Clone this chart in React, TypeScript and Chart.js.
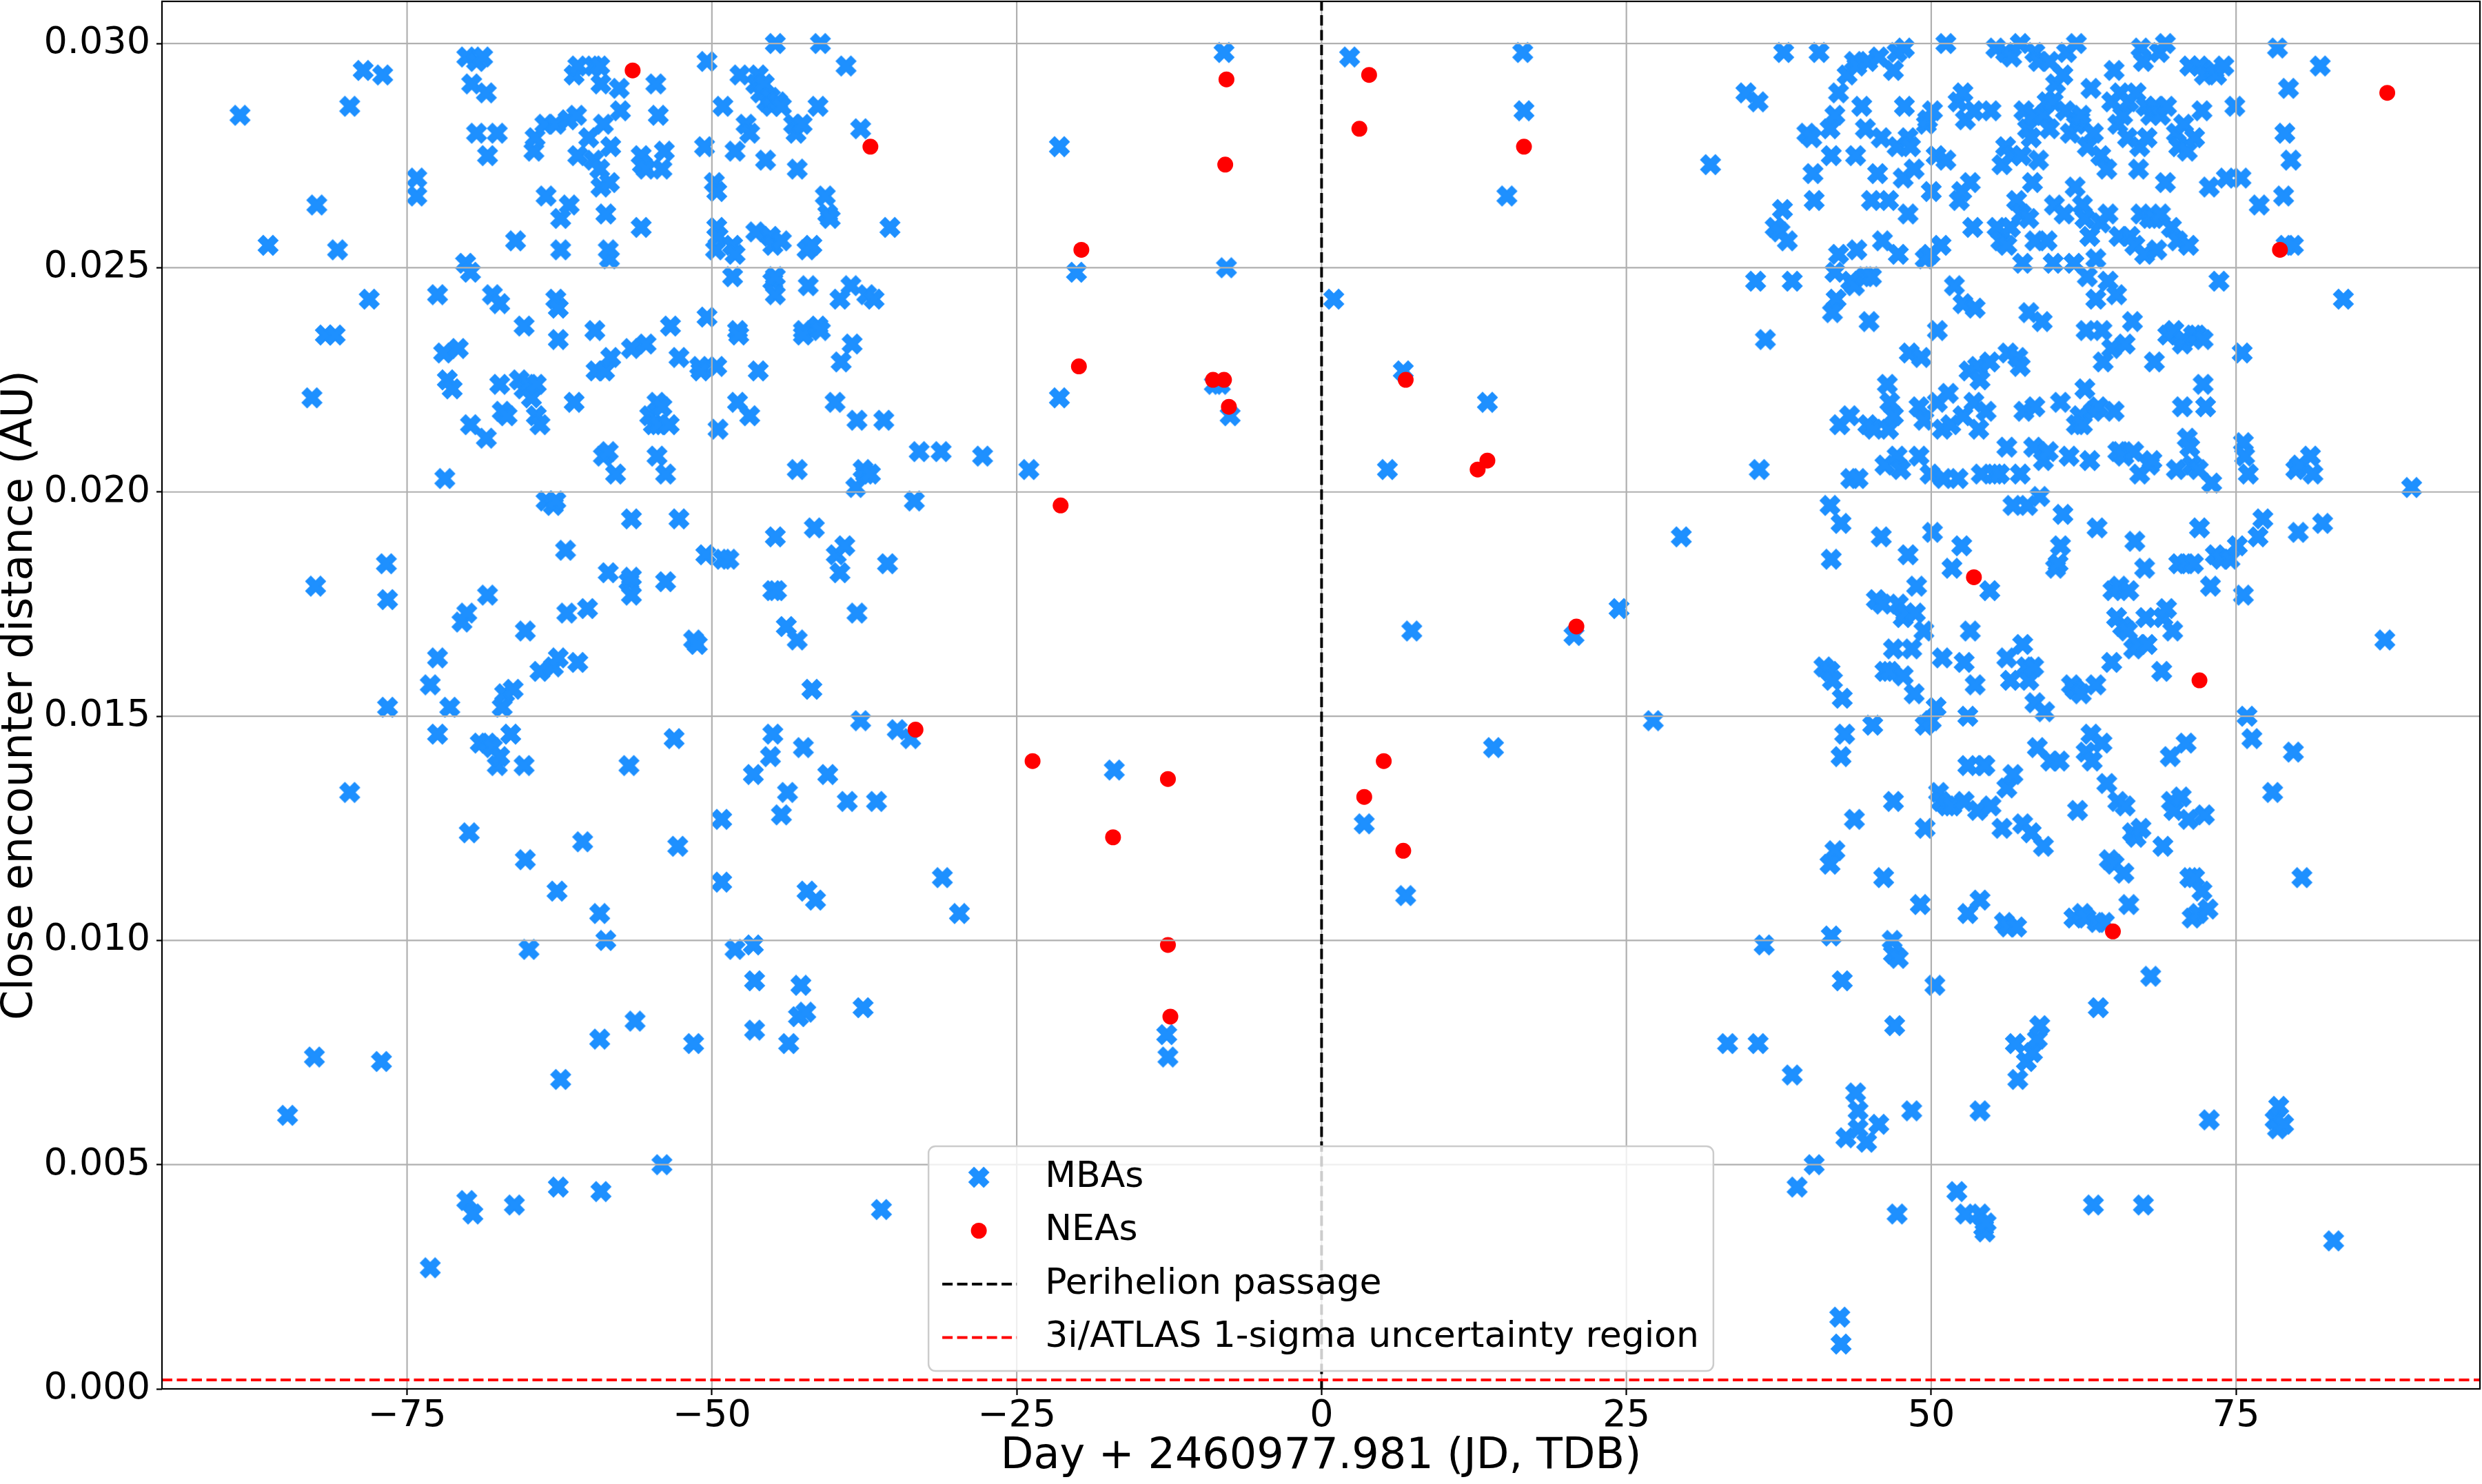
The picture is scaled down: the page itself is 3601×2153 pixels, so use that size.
import React, {useEffect, useRef} from 'react'
import {Chart, registerables} from 'chart.js'

Chart.register(...registerables)

// [day relative to perihelion, close encounter distance in AU]
const mbaPrePerihelion: [number, number][] = [
  [-88.7, 0.0284], [-86.4, 0.0255], [-82.4, 0.0264], [-82.8, 0.0221], [-81.7, 0.0235], [-80.9, 0.0235],
  [-80.7, 0.0254], [-79.7, 0.0286], [-78.6, 0.0294], [-78.1, 0.0243], [-77.0, 0.0293], [-82.5, 0.0179],
  [-84.8, 0.0061], [-82.6, 0.0074], [-79.7, 0.0133], [-76.7, 0.0184], [-76.6, 0.0176], [-76.6, 0.0152],
  [-77.1, 0.0073], [-74.2, 0.027], [-74.2, 0.0266], [-72.5, 0.0244], [-72.0, 0.0231], [-71.7, 0.0225],
  [-71.3, 0.0223], [-70.8, 0.0232], [-71.9, 0.0203], [-73.1, 0.0157], [-72.5, 0.0163], [-72.5, 0.0146],
  [-73.1, 0.0027], [-71.5, 0.0152], [-70.5, 0.0171], [-70.1, 0.0173], [-70.2, 0.0251], [-69.8, 0.0249],
  [-69.8, 0.0215], [-69.9, 0.0124], [-70.1, 0.0042], [-69.6, 0.0039], [-70.1, 0.0297], [-69.3, 0.0296],
  [-68.8, 0.0297], [-69.7, 0.0291], [-69.3, 0.028], [-68.5, 0.0289], [-68.4, 0.0275], [-67.6, 0.028],
  [-68.5, 0.0212], [-68.4, 0.0177], [-69.0, 0.0144], [-68.4, 0.0144], [-68.0, 0.0244], [-67.4, 0.0242],
  [-67.4, 0.0224], [-67.2, 0.0218], [-66.8, 0.0217], [-68.0, 0.0143], [-67.6, 0.0139], [-67.2, 0.0152],
  [-67.0, 0.0155], [-66.3, 0.0156], [-66.5, 0.0146], [-67.4, 0.0141], [-66.1, 0.0256], [-66.2, 0.0041],
  [-65.4, 0.0237], [-65.4, 0.0139], [-65.3, 0.0118], [-65.0, 0.0098], [-65.3, 0.0169], [-65.8, 0.0225],
  [-65.4, 0.0223], [-65.0, 0.0224], [-64.8, 0.0221], [-64.4, 0.0224], [-64.4, 0.0217], [-64.1, 0.0215],
  [-64.6, 0.0276], [-64.5, 0.0279], [-63.7, 0.0282], [-62.8, 0.0282], [-61.8, 0.0283], [-64.1, 0.016],
  [-63.6, 0.0266], [-63.6, 0.0198], [-63.0, 0.0197], [-62.8, 0.0198], [-63.0, 0.0161], [-62.6, 0.0163],
  [-62.8, 0.0243], [-62.6, 0.0241], [-62.6, 0.0234], [-62.4, 0.0261], [-62.4, 0.0254], [-62.4, 0.0069],
  [-62.7, 0.0111], [-62.6, 0.0045], [-62.0, 0.0187], [-61.9, 0.0173], [-61.7, 0.0264], [-61.3, 0.0293],
  [-61.0, 0.0295], [-61.1, 0.0284], [-61.0, 0.0275], [-61.3, 0.022], [-61.0, 0.0162], [-60.6, 0.0122],
  [-60.2, 0.0174], [-60.1, 0.0279], [-59.7, 0.0295], [-59.2, 0.0295], [-59.7, 0.0274], [-59.6, 0.0236],
  [-59.5, 0.0227], [-59.1, 0.0291], [-58.9, 0.0282], [-59.2, 0.0272], [-59.1, 0.0268], [-58.4, 0.0269],
  [-58.7, 0.0262], [-58.3, 0.0277], [-58.9, 0.0208], [-58.5, 0.0209], [-58.8, 0.0227], [-58.3, 0.023],
  [-58.5, 0.0182], [-58.7, 0.01], [-59.2, 0.0106], [-59.2, 0.0078], [-59.1, 0.0044], [-58.4, 0.0252],
  [-58.5, 0.0254], [-57.9, 0.0204], [-57.6, 0.029], [-57.5, 0.0285], [-56.8, 0.018], [-56.6, 0.0181],
  [-56.6, 0.0177], [-56.6, 0.0194], [-56.6, 0.0232], [-56.8, 0.0139], [-56.3, 0.0082], [-55.8, 0.0259],
  [-55.8, 0.0275], [-55.7, 0.0273], [-55.4, 0.0233], [-55.4, 0.0272], [-54.6, 0.0291], [-54.4, 0.0284],
  [-55.1, 0.0217], [-54.8, 0.0215], [-54.5, 0.022], [-54.5, 0.0208], [-54.4, 0.0215], [-54.1, 0.0219],
  [-54.1, 0.0272], [-53.9, 0.0276], [-53.8, 0.0204], [-53.8, 0.018], [-53.4, 0.0237], [-53.5, 0.0215],
  [-53.1, 0.0145], [-52.7, 0.0194], [-52.8, 0.0121], [-54.1, 0.005], [-52.7, 0.023], [-51.5, 0.0077],
  [-51.5, 0.0167], [-51.2, 0.0166], [-51.0, 0.0228], [-50.9, 0.0227], [-50.6, 0.0277], [-50.4, 0.0296],
  [-50.5, 0.0186], [-50.4, 0.0239], [-49.8, 0.0269], [-49.6, 0.0267], [-49.7, 0.0254], [-49.6, 0.0259],
  [-49.5, 0.0257], [-49.5, 0.0214], [-49.6, 0.0228], [-49.1, 0.0185], [-48.6, 0.0185], [-49.1, 0.0286],
  [-49.2, 0.0127], [-49.2, 0.0113], [-48.3, 0.0248], [-48.3, 0.0255], [-48.1, 0.0253], [-48.1, 0.0276],
  [-47.9, 0.0236], [-47.8, 0.0235], [-47.9, 0.022], [-48.1, 0.0098], [-47.7, 0.0293], [-47.2, 0.0282],
  [-46.9, 0.0217], [-46.9, 0.028], [-46.6, 0.0099], [-46.6, 0.0137], [-46.5, 0.008], [-46.5, 0.0091],
  [-46.4, 0.0291], [-46.2, 0.0293], [-46.4, 0.0258], [-46.2, 0.0227], [-46.0, 0.0289], [-45.7, 0.0291],
  [-45.6, 0.0274], [-45.5, 0.0287], [-45.2, 0.0288], [-45.1, 0.0286], [-45.2, 0.0257], [-45.0, 0.0255],
  [-44.8, 0.03], [-45.0, 0.0247], [-44.8, 0.0248], [-44.8, 0.0244], [-45.0, 0.0178], [-45.0, 0.0146],
  [-45.2, 0.0141], [-44.8, 0.019], [-44.7, 0.0178], [-44.6, 0.0287], [-44.3, 0.0286], [-44.3, 0.0128],
  [-44.3, 0.0256], [-43.9, 0.017], [-43.8, 0.0133], [-43.7, 0.0077], [-43.3, 0.0282], [-43.1, 0.028],
  [-43.0, 0.0272], [-43.0, 0.0205], [-43.0, 0.0167], [-42.7, 0.009], [-42.9, 0.0083], [-42.6, 0.0282],
  [-42.5, 0.0236], [-42.5, 0.0235], [-42.5, 0.0143], [-42.2, 0.0111], [-42.2, 0.0254], [-42.1, 0.0246],
  [-42.3, 0.0084], [-41.8, 0.0156], [-41.8, 0.0255], [-41.6, 0.0192], [-41.5, 0.0109], [-41.3, 0.0286],
  [-41.1, 0.03], [-41.3, 0.0237], [-41.1, 0.0236], [-40.7, 0.0266], [-40.5, 0.0262], [-40.5, 0.0137],
  [-40.3, 0.0261], [-39.9, 0.022], [-39.8, 0.0186], [-39.5, 0.0243], [-39.5, 0.0182], [-39.4, 0.0229],
  [-39.1, 0.0188], [-39.0, 0.0295], [-38.9, 0.0131], [-38.6, 0.0246], [-38.5, 0.0233], [-38.2, 0.0201],
  [-38.1, 0.0173], [-37.8, 0.0149], [-38.1, 0.0216], [-37.8, 0.0281], [-37.6, 0.0085], [-37.4, 0.0204],
  [-37.3, 0.0244], [-37.6, 0.0205], [-37.0, 0.0204], [-36.7, 0.0243], [-36.5, 0.0131], [-36.1, 0.004],
  [-35.9, 0.0216], [-35.6, 0.0184], [-35.4, 0.0259], [-34.8, 0.0147], [-33.7, 0.0145], [-33.4, 0.0198],
  [-33.0, 0.0209], [-31.2, 0.0209], [-31.1, 0.0114], [-29.7, 0.0106], [-27.8, 0.0208], [-24.0, 0.0205],
  [-21.5, 0.0221], [-21.5, 0.0277], [-20.1, 0.0249], [-17.0, 0.0138], [-12.7, 0.0079], [-12.6, 0.0074],
  [-8.8, 0.0224], [-8.0, 0.0298], [-7.8, 0.025], [-7.5, 0.0217], [-8.3, 0.0224],
]

const mbaPostPerihelion: [number, number][] = [
  [1.0, 0.0243], [2.3, 0.0297], [3.5, 0.0126], [6.7, 0.0227], [6.9, 0.011], [7.4, 0.0169], [5.4, 0.0205],
  [13.6, 0.022], [14.1, 0.0143], [15.2, 0.0266], [16.6, 0.0285], [16.5, 0.0298], [20.7, 0.0168],
  [24.4, 0.0174], [27.2, 0.0149], [29.5, 0.019], [31.9, 0.0273], [33.3, 0.0077], [34.8, 0.0289],
  [35.8, 0.0287], [35.6, 0.0247], [35.9, 0.0205], [36.4, 0.0234], [35.8, 0.0077], [36.3, 0.0099],
  [37.2, 0.0259], [37.6, 0.0258], [37.8, 0.0263], [38.2, 0.0256], [37.9, 0.0298], [38.6, 0.0247],
  [38.6, 0.007], [39.0, 0.0045], [39.8, 0.028], [40.2, 0.0279], [40.3, 0.0271], [40.4, 0.0265],
  [40.4, 0.005], [40.8, 0.0298], [41.7, 0.0281], [41.8, 0.0275], [42.1, 0.0284], [42.4, 0.0289],
  [42.2, 0.0243], [41.9, 0.024], [42.4, 0.0253], [42.1, 0.0249], [41.7, 0.0197], [41.8, 0.0185],
  [41.2, 0.0161], [41.7, 0.016], [41.9, 0.0158], [42.1, 0.012], [41.7, 0.0117], [41.8, 0.0101],
  [42.5, 0.0016], [42.6, 0.001], [42.5, 0.0215], [42.6, 0.0193], [42.7, 0.0154], [42.9, 0.0146],
  [42.6, 0.0141], [42.7, 0.0091], [43.0, 0.0056], [43.1, 0.0293], [43.3, 0.0217],
  [43.4, 0.0203], [43.7, 0.0296], [43.9, 0.0295], [43.8, 0.0275], [43.9, 0.0254], [43.4, 0.0247],
  [43.7, 0.0246], [44.0, 0.0203], [43.7, 0.0127], [43.8, 0.0066], [44.0, 0.0058], [44.0, 0.0062],
  [44.3, 0.0286], [44.6, 0.0281], [44.6, 0.0248], [44.7, 0.0055], [44.8, 0.0296], [44.8, 0.0215],
  [45.1, 0.0265], [44.9, 0.0238], [45.2, 0.0148], [45.1, 0.0248], [45.3, 0.0214], [45.5, 0.0176],
  [45.6, 0.0271], [45.7, 0.0297], [45.7, 0.0059], [45.9, 0.0279], [45.9, 0.019], [46.0, 0.0256],
  [46.0, 0.0175], [46.1, 0.0114], [46.2, 0.016], [46.2, 0.0206], [46.4, 0.0224], [46.5, 0.0265],
  [46.6, 0.016], [46.6, 0.022], [46.8, 0.01], [46.5, 0.0214], [46.9, 0.0294], [46.9, 0.0217],
  [46.9, 0.0131], [46.9, 0.0165], [46.9, 0.0097], [47.0, 0.0081], [47.2, 0.0298], [47.2, 0.0277],
  [47.2, 0.0208], [47.2, 0.0039], [47.3, 0.0253], [47.3, 0.0175], [47.3, 0.0096], [47.5, 0.0205],
  [47.7, 0.027], [47.7, 0.0159], [47.7, 0.0172], [47.8, 0.0299], [47.8, 0.0286], [48.1, 0.0186],
  [47.9, 0.0173], [48.1, 0.0279], [48.1, 0.0262], [48.2, 0.0231], [48.3, 0.0277], [48.4, 0.0165],
  [48.4, 0.0062], [48.6, 0.0272], [48.6, 0.0155], [48.7, 0.0173], [48.8, 0.0179], [49.0, 0.0208],
  [49.1, 0.0108], [49.0, 0.0219], [49.2, 0.023], [49.4, 0.0216], [49.4, 0.0169], [49.5, 0.0252],
  [49.5, 0.0148], [49.5, 0.0125], [49.6, 0.0282], [49.7, 0.0283],
  [49.9, 0.0253], [49.9, 0.0204], [50.0, 0.0267], [50.0, 0.0149], [50.1, 0.0191], [50.1, 0.0285],
  [50.3, 0.009], [50.4, 0.0275], [50.4, 0.0152], [50.5, 0.0236], [50.5, 0.022], [50.6, 0.0133],
  [50.8, 0.0255], [50.8, 0.0131], [50.9, 0.0214], [50.9, 0.0163], [51.0, 0.0203], [51.2, 0.03],
  [51.2, 0.0274], [51.3, 0.013], [51.4, 0.0222], [51.6, 0.0215], [51.7, 0.0183], [51.7, 0.013],
  [51.9, 0.0246], [52.1, 0.0044], [52.2, 0.0287], [52.2, 0.0203], [52.3, 0.0265], [52.5, 0.0267],
  [52.5, 0.0188], [52.6, 0.0289], [52.6, 0.0242], [52.6, 0.0217], [52.7, 0.0162], [52.7, 0.0131],
  [52.8, 0.0283], [52.8, 0.0039], [53.0, 0.015], [53.0, 0.0139], [53.0, 0.0106], [53.1, 0.0227],
  [53.2, 0.0169], [53.2, 0.0269], [53.4, 0.0259], [53.5, 0.022], [53.5, 0.0285], [53.6, 0.0241],
  [53.6, 0.0157], [53.8, 0.0129], [53.8, 0.0228], [53.9, 0.0214], [54.0, 0.0039], [54.0, 0.0109],
  [54.0, 0.0062], [54.0, 0.0225], [54.1, 0.0204], [54.3, 0.0139], [54.3, 0.0036], [54.4, 0.0035],
  [54.4, 0.0139], [54.5, 0.0218], [54.5, 0.0037], [54.8, 0.0178], [54.8, 0.0229], [54.9, 0.013],
  [54.9, 0.0285], [55.2, 0.0204], [55.3, 0.0299], [55.4, 0.0259], [55.6, 0.0204], [55.7, 0.0256],
  [55.8, 0.0273], [55.8, 0.0125], [56.0, 0.0104], [56.1, 0.0298], [56.1, 0.0277], [56.2, 0.0255],
  [56.2, 0.021], [56.2, 0.0163], [56.2, 0.0134],
  [56.3, 0.0231], [56.3, 0.0103], [56.5, 0.0158], [56.5, 0.0259], [56.6, 0.0297], [56.6, 0.0275],
  [56.7, 0.0197], [56.7, 0.0137], [56.9, 0.0077], [57.0, 0.0265], [57.0, 0.0103], [57.1, 0.023],
  [57.1, 0.0069], [57.3, 0.03], [57.3, 0.0228], [57.3, 0.0204], [57.4, 0.0275], [57.4, 0.0262],
  [57.5, 0.0251], [57.5, 0.0126], [57.5, 0.0166], [57.6, 0.0285], [57.6, 0.0218], [57.8, 0.0073],
  [57.8, 0.0161], [57.9, 0.0281], [57.9, 0.0197], [58.0, 0.0261], [58.0, 0.024], [58.0, 0.0158],
  [58.2, 0.0279], [58.2, 0.0124], [58.3, 0.0269], [58.3, 0.0075], [58.4, 0.0284], [58.4, 0.021],
  [58.4, 0.0161], [58.5, 0.0298], [58.5, 0.0256], [58.5, 0.0219], [58.5, 0.0153], [58.7, 0.0143],
  [58.7, 0.0078], [58.8, 0.0296], [58.8, 0.0274], [58.9, 0.0199], [58.9, 0.0081], [59.1, 0.0238],
  [59.2, 0.0207], [59.2, 0.0121], [59.2, 0.0284], [59.3, 0.0151], [59.5, 0.0256], [59.5, 0.0287],
  [59.6, 0.0209], [59.7, 0.0281], [59.7, 0.0296], [59.8, 0.014], [60.0, 0.0287], [60.0, 0.0251],
  [60.1, 0.0264], [60.2, 0.0183], [60.2, 0.0291], [60.4, 0.0184], [60.5, 0.014], [60.6, 0.0188],
  [60.6, 0.022], [60.8, 0.0293], [60.8, 0.0195], [60.9, 0.0262], [61.0, 0.0285], [61.1, 0.0298],
  [61.3, 0.0208], [61.4, 0.028], [61.5, 0.0157], [61.7, 0.0105], [61.7, 0.0251], [61.8, 0.0156],
  [61.8, 0.0268], [61.9, 0.03], [61.9, 0.0215], [61.9, 0.0282], [62.0, 0.0129], [62.2, 0.0283],
  [62.2, 0.0217], [62.3, 0.0155], [62.3, 0.0284], [62.4, 0.0215], [62.4, 0.0264], [62.4, 0.0106],
  [62.6, 0.0223], [62.6, 0.0261], [62.7, 0.0142], [62.7, 0.0236], [62.7, 0.0105],
  [62.8, 0.0277], [62.8, 0.0248], [63.0, 0.0257], [63.0, 0.0207], [63.1, 0.029], [63.1, 0.0146],
  [63.2, 0.014], [63.3, 0.028], [63.3, 0.0218], [63.3, 0.0041], [63.5, 0.0252], [63.5, 0.0243],
  [63.5, 0.0157], [63.6, 0.0104], [63.6, 0.0192], [63.7, 0.0219], [63.7, 0.0085], [63.9, 0.0275],
  [63.9, 0.026], [64.0, 0.0236], [64.0, 0.0144], [64.1, 0.0229], [64.2, 0.0104], [64.4, 0.0272],
  [64.4, 0.0135], [64.5, 0.0247], [64.5, 0.0262], [64.6, 0.0118], [64.8, 0.0287], [64.8, 0.0232],
  [64.8, 0.0162], [64.9, 0.0178], [65.0, 0.0294], [65.0, 0.0218], [65.0, 0.0117], [65.2, 0.0244],
  [65.2, 0.0172], [65.3, 0.0282], [65.3, 0.0131], [65.3, 0.0209], [65.4, 0.0257], [65.4, 0.0179],
  [65.5, 0.0289], [65.5, 0.0209], [65.7, 0.0284], [65.7, 0.017], [65.8, 0.0208], [65.8, 0.0115],
  [65.9, 0.0233], [65.9, 0.013], [66.1, 0.0279], [66.1, 0.0169], [66.2, 0.0287], [66.2, 0.0178],
  [66.2, 0.0108], [66.3, 0.0257], [66.5, 0.0238], [66.5, 0.0124], [66.6, 0.0165], [66.6, 0.0209],
  [66.7, 0.0255], [66.7, 0.0189], [66.8, 0.0289], [66.8, 0.0123], [67.0, 0.0272], [67.0, 0.0166],
  [67.1, 0.0277], [67.1, 0.0204], [67.2, 0.0299], [67.2, 0.0262], [67.2, 0.0125], [67.4, 0.0296],
  [67.4, 0.0041], [67.5, 0.0253], [67.5, 0.0183], [67.6, 0.0286], [67.6, 0.0172], [67.7, 0.0279],
  [67.7, 0.0166], [67.9, 0.0261], [67.9, 0.0206], [68.0, 0.0284], [68.0, 0.0092], [68.1, 0.0207],
  [68.3, 0.0261], [68.3, 0.0229], [68.4, 0.0286], [68.5, 0.0254], [68.7, 0.0298], [68.8, 0.0284],
  [68.8, 0.0262], [68.9, 0.016], [69.0, 0.0172], [69.0, 0.0121], [69.2, 0.03], [69.2, 0.0269],
  [69.3, 0.0286], [69.3, 0.0174], [69.4, 0.0235], [69.6, 0.0141], [69.7, 0.0259], [69.7, 0.0131],
  [69.8, 0.0169], [69.9, 0.0236], [69.9, 0.0129], [70.1, 0.028], [70.1, 0.0205], [70.2, 0.0256],
  [70.3, 0.0277], [70.3, 0.0184], [70.5, 0.0132], [70.6, 0.0233], [70.6, 0.0219], [70.7, 0.0282],
  [70.7, 0.0234], [70.9, 0.0144], [70.9, 0.0184], [71.0, 0.0276], [71.0, 0.0212], [71.1, 0.0255],
  [71.1, 0.0127], [71.2, 0.0295], [71.2, 0.021], [71.2, 0.0114], [71.4, 0.0206], [71.4, 0.0105],
  [71.5, 0.0235], [71.5, 0.0184], [71.6, 0.0279], [71.6, 0.0114], [71.8, 0.0235], [71.9, 0.0205],
  [71.9, 0.0106], [72.0, 0.0295], [72.0, 0.0192], [72.2, 0.0285], [72.2, 0.0111], [72.3, 0.0234],
  [72.3, 0.0224], [72.4, 0.0293], [72.4, 0.0128], [72.5, 0.0219], [72.7, 0.0107], [72.8, 0.0268],
  [72.8, 0.006], [72.9, 0.0179], [73.0, 0.0202], [73.2, 0.0294], [73.3, 0.0186], [73.4, 0.0293],
  [73.6, 0.0247], [73.8, 0.0185], [74.0, 0.0295], [74.2, 0.027], [74.5, 0.0185], [74.9, 0.0286],
  [75.1, 0.0188], [75.4, 0.027], [75.5, 0.0231], [75.6, 0.0177], [75.6, 0.0211], [75.7, 0.0208],
  [75.9, 0.015], [76.0, 0.0204], [76.3, 0.0145], [76.8, 0.019], [76.9, 0.0264], [77.2, 0.0194],
  [78.0, 0.0133], [78.2, 0.006], [78.4, 0.0058], [78.4, 0.0299], [78.5, 0.0063], [78.9, 0.0266],
  [78.9, 0.0059], [79.0, 0.028], [79.1, 0.0255], [79.3, 0.029], [79.5, 0.0274], [79.7, 0.0255],
  [79.7, 0.0142], [79.9, 0.0205], [80.1, 0.0191], [80.2, 0.0206], [80.4, 0.0114], [81.1, 0.0208],
  [81.3, 0.0204], [81.9, 0.0295], [82.1, 0.0193], [83.0, 0.0033], [83.8, 0.0243], [87.2, 0.0167],
  [89.4, 0.0201],
]

const neaPoints: [number, number][] = [
  [-56.5, 0.0294], [-37.0, 0.0277], [-33.3, 0.0147], [-23.7, 0.014], [-21.4, 0.0197], [-19.9, 0.0228],
  [-19.7, 0.0254], [-17.1, 0.0123], [-12.6, 0.0136], [-12.6, 0.0099], [-12.4, 0.0083], [-8.9, 0.0225],
  [-8.0, 0.0225], [-7.9, 0.0273], [-7.8, 0.0292], [-7.6, 0.0219], [3.1, 0.0281], [3.9, 0.0293],
  [3.5, 0.0132], [5.1, 0.014], [6.7, 0.012], [6.9, 0.0225], [12.8, 0.0205], [13.6, 0.0207],
  [16.6, 0.0277], [20.9, 0.017], [53.5, 0.0181], [64.9, 0.0102], [72.0, 0.0158], [78.6, 0.0254],
  [87.4, 0.0289],
]

const perihelionDay = 0
const sigmaDistance = 0.0002
const dayRange = [-95.1, 95.0]
const distanceRange = [0, 0.03094]
const dayStep = 25
const distanceStep = 0.005

const legendLabels = ['MBAs', 'NEAs', 'Perihelion passage', '3i/ATLAS 1-sigma uncertainty region']

const FONT = '"DejaVu Sans", sans-serif'
const MBA_COLOR = '#1e90ff'
const NEA_COLOR = '#ff0000'

// matplotlib's filled "X" marker
function makeXMarker(size: number, color: string) {
  const c = document.createElement('canvas')
  c.width = size + 4
  c.height = size + 4
  const g = c.getContext('2d')!
  const u = size / 4
  const pts = [[-1, -2], [0, -1], [1, -2], [2, -1], [1, 0], [2, 1], [1, 2], [0, 1], [-1, 2], [-2, 1], [-1, 0], [-2, -1]]
  g.translate(c.width / 2, c.height / 2)
  g.beginPath()
  pts.forEach(([px, py], i) => (i ? g.lineTo(px * u, py * u) : g.moveTo(px * u, py * u)))
  g.closePath()
  g.fillStyle = color
  g.strokeStyle = color
  g.lineWidth = 2
  g.fill()
  g.stroke()
  return c
}

const toXY = (pts: [number, number][]) => pts.map(([x, y]) => ({x, y}))

const ScatterChart: React.FC = () => {
  const chartRef = useRef<HTMLCanvasElement | null>(null)

  useEffect(() => {
    if (!chartRef.current) {
      return
    }
    document.body.style.margin = '0'

    const xMarker = makeXMarker(28, MBA_COLOR)

    const gridOverScatter = {
      id: 'gridOverScatter',
      // matplotlib draws the grid above scatter collections but below lines
      afterDatasetDraw(chart: any, args: any) {
        if (args.index !== 1) return
        const {ctx, chartArea: a, scales} = chart
        ctx.save()
        ctx.strokeStyle = '#b0b0b0'
        ctx.lineWidth = 2.2
        ctx.beginPath()
        scales.x.ticks.forEach((t: any) => {
          const px = scales.x.getPixelForValue(t.value)
          ctx.moveTo(px, a.top)
          ctx.lineTo(px, a.bottom)
        })
        scales.y.ticks.forEach((t: any) => {
          const py = scales.y.getPixelForValue(t.value)
          ctx.moveTo(a.left, py)
          ctx.lineTo(a.right, py)
        })
        ctx.stroke()
        ctx.restore()
      },
    }

    const frameAndLegend = {
      id: 'frameAndLegend',
      afterDraw(chart: any) {
        const {ctx, chartArea: a} = chart
        ctx.save()
        ctx.strokeStyle = '#000'
        ctx.lineWidth = 2.2
        ctx.strokeRect(a.left, a.top, a.right - a.left, a.bottom - a.top)

        ctx.font = `52px ${FONT}`
        const textW = Math.max(...legendLabels.map((l) => ctx.measureText(l).width))
        const w = 169 + textW + 21
        const h = 326
        const left = (a.left + a.right) / 2 - w / 2
        const top = a.bottom - 26 - h
        ctx.beginPath()
        ctx.roundRect(left, top, w, h, 10)
        ctx.fillStyle = 'rgba(255,255,255,0.8)'
        ctx.fill()
        ctx.strokeStyle = '#cccccc'
        ctx.lineWidth = 2.5
        ctx.stroke()

        legendLabels.forEach((label, i) => {
          const cy = top + 45 + i * 77.5
          if (i === 0) {
            ctx.drawImage(xMarker, left + 73 - xMarker.width / 2, cy - xMarker.height / 2)
          } else if (i === 1) {
            ctx.beginPath()
            ctx.arc(left + 73, cy, 11.5, 0, Math.PI * 2)
            ctx.fillStyle = NEA_COLOR
            ctx.fill()
          } else {
            ctx.beginPath()
            ctx.setLineDash([15, 6.5])
            ctx.strokeStyle = i === 2 ? '#000' : NEA_COLOR
            ctx.lineWidth = 4
            ctx.moveTo(left + 20, cy)
            ctx.lineTo(left + 128, cy)
            ctx.stroke()
            ctx.setLineDash([])
          }
          ctx.fillStyle = '#000'
          ctx.textBaseline = 'middle'
          ctx.textAlign = 'left'
          ctx.fillText(label, left + 169, cy)
        })
        ctx.restore()
      },
    }

    const chart = new Chart(chartRef.current, {
      type: 'scatter',
      data: {
        datasets: [
          {
            label: legendLabels[0],
            data: toXY([...mbaPrePerihelion, ...mbaPostPerihelion]),
            pointStyle: xMarker as any,
            pointRadius: 15,
            order: 3,
          },
          {
            label: legendLabels[1],
            data: toXY(neaPoints),
            pointStyle: 'circle',
            pointRadius: 11.5,
            backgroundColor: NEA_COLOR,
            borderWidth: 0,
            order: 2,
          },
          {
            label: legendLabels[2],
            data: [
              {x: perihelionDay, y: distanceRange[0]},
              {x: perihelionDay, y: distanceRange[1]},
            ],
            showLine: true,
            borderColor: '#000',
            borderWidth: 4,
            borderDash: [15, 6.5],
            pointRadius: 0,
            order: 1,
          },
          {
            label: legendLabels[3],
            data: [
              {x: dayRange[0], y: sigmaDistance},
              {x: dayRange[1], y: sigmaDistance},
            ],
            showLine: true,
            borderColor: NEA_COLOR,
            borderWidth: 4,
            borderDash: [15, 6.5],
            pointRadius: 0,
            order: 0,
          },
        ],
      },
      options: {
        animation: false,
        responsive: false,
        devicePixelRatio: 1,
        events: [],
        layout: {autoPadding: false, padding: {left: 0, top: 2, right: 3, bottom: 0}},
        plugins: {legend: {display: false}, tooltip: {enabled: false}},
        scales: {
          x: {
            type: 'linear',
            min: dayRange[0],
            max: dayRange[1],
            afterFit: (scale: any) => {
              scale.height = 138
              scale.paddingLeft = 0
              scale.paddingRight = 0
              scale.paddingTop = 0
              scale.paddingBottom = 0
            },
            border: {display: false},
            grid: {drawOnChartArea: false, tickLength: 9, tickColor: '#000', tickWidth: 2.2},
            ticks: {
              stepSize: dayStep,
              includeBounds: false,
              autoSkip: false,
              maxRotation: 0,
              color: '#000',
              padding: 4,
              font: {family: FONT, size: 54, lineHeight: 1},
              callback: (v: any) => (v < 0 ? '\u2212' + Math.abs(v) : String(v)),
            },
            title: {
              display: true,
              text: 'Day + 2460977.981 (JD, TDB)',
              color: '#000',
              font: {family: FONT, size: 62, lineHeight: 0.95},
              padding: {top: 0, bottom: 10},
            },
          },
          y: {
            type: 'linear',
            min: distanceRange[0],
            max: distanceRange[1],
            afterFit: (scale: any) => {
              scale.width = 235
              scale.paddingLeft = 0
              scale.paddingRight = 0
              scale.paddingTop = 0
              scale.paddingBottom = 0
            },
            border: {display: false},
            grid: {drawOnChartArea: false, tickLength: 8, tickColor: '#000', tickWidth: 2.2},
            ticks: {
              stepSize: distanceStep,
              includeBounds: false,
              color: '#000',
              padding: 9,
              font: {family: FONT, size: 54, lineHeight: 1},
              callback: (v: any) => Number(v).toFixed(3),
            },
            title: {
              display: true,
              text: 'Close encounter distance (AU)',
              color: '#000',
              font: {family: FONT, size: 62, lineHeight: 0.95},
              padding: {top: 0, bottom: 0},
            },
          },
        },
      },
      plugins: [gridOverScatter, frameAndLegend],
    })

    return () => {
      chart.destroy()
    }
  }, [chartRef])

  return <canvas ref={chartRef} width={3601} height={2153} style={{display: 'block'}}></canvas>
}

export default function App() {
  return <ScatterChart />
}
